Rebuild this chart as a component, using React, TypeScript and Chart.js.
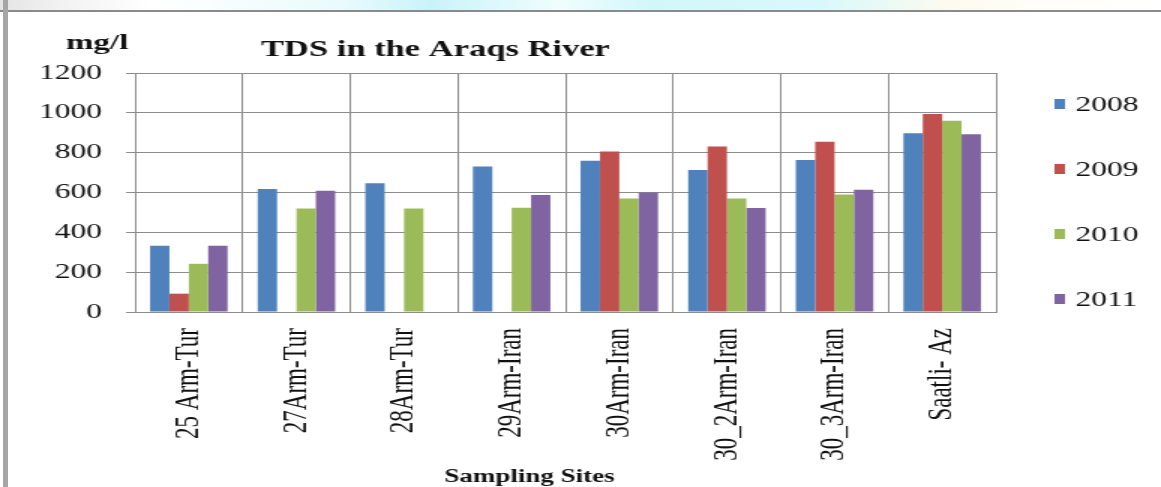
import { useEffect, useRef } from "react";
import { Chart, registerables } from "chart.js";

Chart.register(...registerables);

// Sampling sites along the river (x axis categories)
const sites = [
  "25 Arm-Tur",
  "27Arm-Tur",
  "28Arm-Tur",
  "29Arm-Iran",
  "30Arm-Iran",
  "30_2Arm-Iran",
  "30_3Arm-Iran",
  "Saatli- Az",
];

const years = ["2008", "2009", "2010", "2011"];

// Total dissolved solids, mg/l (null = not measured)
const tds2008 = [333, 617, 646, 731, 760, 713, 763, 898];
const tds2009 = [92, null, null, null, 806, 831, 855, 994];
const tds2010 = [242, 520, 520, 523, 570, 570, 590, 960];
const tds2011 = [333, 609, null, 587, 600, 522, 614, 892];

const yMin = 0;
const yMax = 1200;
const yStep = 200;

const seriesColors = ["#4F81BD", "#C0504D", "#9BBB59", "#8064A2"];

// The drawing surface is rendered narrower and stretched wide by CSS,
// giving the broad lettering of the original worksheet chart.
const STRETCH = 1.5;
const PAGE_W = 1161;
const PAGE_H = 487;
const CANVAS_W = Math.round(PAGE_W / STRETCH);

const SERIF = "'Liberation Serif', 'Times New Roman', serif";

const annotations = {
  id: "annotations",
  afterDraw(chart: any) {
    const ctx = chart.ctx as CanvasRenderingContext2D;
    ctx.save();
    ctx.fillStyle = "#111";
    ctx.textBaseline = "middle";

    // unit label and chart title
    ctx.textAlign = "left";
    ctx.font = `bold 22px ${SERIF}`;
    ctx.fillText("mg/l", 44, 43);
    ctx.font = `bold 23px ${SERIF}`;
    ctx.fillText("TDS in the Araqs River", 174, 50);

    // x axis title
    ctx.textAlign = "center";
    ctx.font = `bold 18px ${SERIF}`;
    ctx.fillText("Sampling Sites", 353, 477);

    // legend
    const rowY = [104, 169, 234, 299];
    ctx.textAlign = "left";
    ctx.font = `21px ${SERIF}`;
    chart.data.datasets.forEach((ds: any, i: number) => {
      ctx.fillStyle = ds.backgroundColor;
      ctx.fillRect(703, rowY[i] - 5, 7, 10);
      ctx.fillStyle = "#111";
      ctx.fillText(ds.label, 717, rowY[i] + 1);
    });
    ctx.restore();
  },
};

export default function App() {
  const canvasRef = useRef<HTMLCanvasElement | null>(null);

  useEffect(() => {
    const canvas = canvasRef.current;
    if (!canvas) return;
    const series = [tds2008, tds2009, tds2010, tds2011];
    const chart = new Chart(canvas, {
      type: "bar",
      data: {
        labels: sites,
        datasets: years.map((y, i) => ({
          label: y,
          data: series[i],
          backgroundColor: seriesColors[i],
          borderWidth: 0,
          categoryPercentage: 0.72,
          barPercentage: 1.0,
        })),
      },
      options: {
        responsive: false,
        animation: false,
        devicePixelRatio: 1,
        layout: { padding: { top: 73, right: 110, left: 0, bottom: 0 } },
        plugins: {
          legend: { display: false },
          title: { display: false },
          tooltip: { enabled: false },
        },
        scales: {
          x: {
            grid: {
              color: "#8c8c8c",
              lineWidth: 1,
              drawTicks: false,
              offset: true,
            },
            border: { color: "#8c8c8c" },
            ticks: {
              autoSkip: false,
              minRotation: 90,
              maxRotation: 90,
              padding: 16,
              color: "#111",
              font: { family: SERIF, size: 23 },
            },
            afterFit(scale: any) {
              scale.height = 175;
            },
          },
          y: {
            min: yMin,
            max: yMax,
            grid: { color: "#8c8c8c", lineWidth: 1, tickLength: 6 },
            border: { color: "#8c8c8c" },
            ticks: {
              stepSize: yStep,
              padding: 16,
              color: "#111",
              font: { family: SERIF, size: 21 },
              callback: (value: any) => String(value),
            },
            afterFit(scale: any) {
              scale.width = 90;
            },
          },
        },
      },
      plugins: [annotations],
    });
    return () => chart.destroy();
  }, []);

  return (
    <div
      style={{
        position: "fixed",
        left: 0,
        top: 0,
        width: PAGE_W,
        height: PAGE_H,
        background: "#fff",
        overflow: "hidden",
      }}
    >
      <div
        style={{
          position: "absolute",
          left: 0,
          top: 0,
          width: PAGE_W,
          height: 10,
          background:
            "linear-gradient(to right, #e4e4e4 0px, #f2f2f2 60px, #ffffff 150px, #eafbfd 340px, #c9f3f9 430px, #f0fdfe 560px, #d2f7fb 650px, #d9f8fb 820px, #fdfbef 950px, #fffef9 1050px, #ffffff 1161px)",
          borderBottom: "2px solid #8a8a8a",
        }}
      />
      <div
        style={{
          position: "absolute",
          left: 3,
          top: 0,
          width: 5,
          height: PAGE_H,
          background: "#a6a6a6",
        }}
      />
      <canvas
        ref={canvasRef}
        width={CANVAS_W}
        height={PAGE_H}
        style={{
          position: "absolute",
          left: 0,
          top: 0,
          width: PAGE_W,
          height: PAGE_H,
          display: "block",
        }}
      />
    </div>
  );
}
